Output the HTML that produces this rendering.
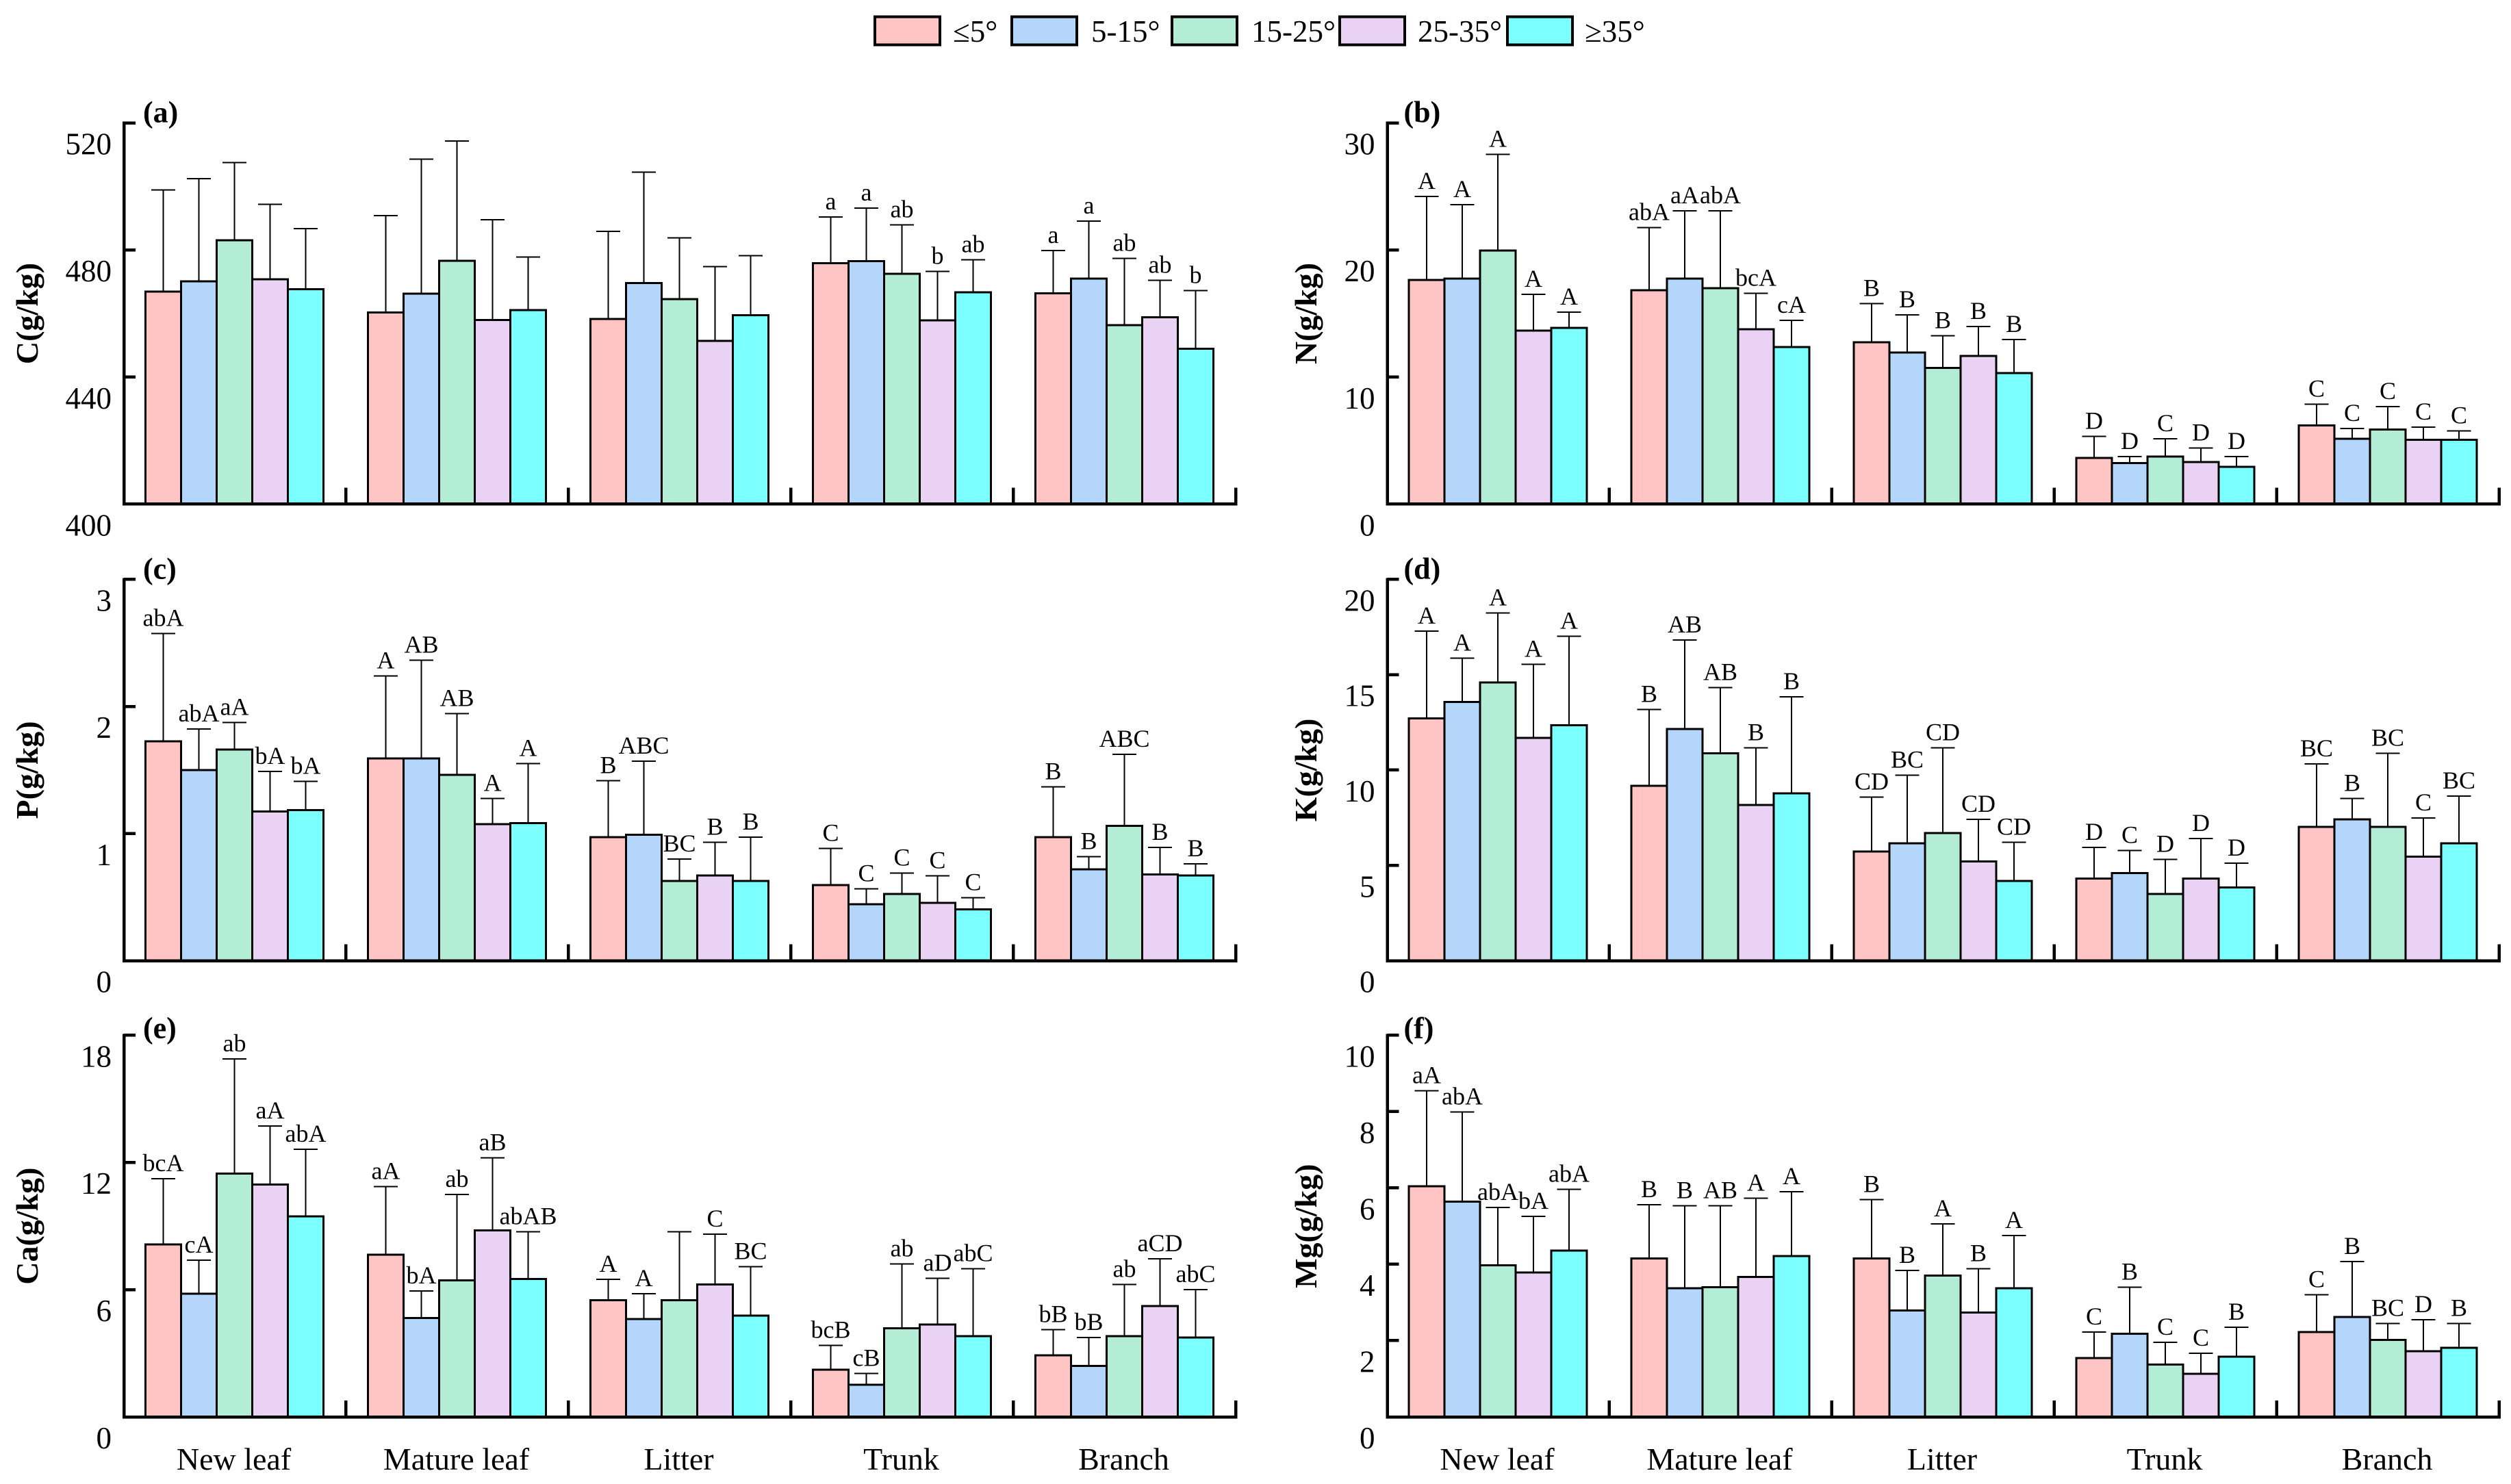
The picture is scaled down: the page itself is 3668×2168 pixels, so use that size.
<!DOCTYPE html>
<html lang="en">
<head>
<meta charset="utf-8">
<title>Leaf and wood nutrient concentrations by slope class</title>
<style>
html,body{margin:0;padding:0;background:#fff;}
svg{display:block;}
text{font-family:"Liberation Serif","DejaVu Serif",serif;fill:#000;}
</style>
</head>
<body>
<svg id="chart" xmlns="http://www.w3.org/2000/svg" width="3668" height="2168" viewBox="0 0 3668 2168"></svg>
<script>
const categories = ['New leaf', 'Mature leaf', 'Litter', 'Trunk', 'Branch'];
const seriesNames = ['≤5°', '5-15°', '15-25°', '25-35°', '≥35°'];
const seriesColors = ['#FFC4C4', '#B4D6FB', '#B3EDD6', '#EAD2F5', '#7BFFFF'];

const aTicks = [400, 440, 480, 520];
const aValues = [
  [466.9, 470.1, 483.1, 470.8, 467.7],
  [460.3, 466.3, 476.6, 457.9, 461.1],
  [458.3, 469.6, 464.5, 451.4, 459.5],
  [475.8, 476.5, 472.5, 457.8, 466.7],
  [466.4, 471.0, 456.3, 458.8, 448.9]
];
const aUpper = [
  [498.9, 502.5, 507.5, 494.4, 486.7],
  [490.8, 508.6, 514.3, 489.5, 477.8],
  [485.9, 504.5, 483.8, 474.8, 478.2],
  [490.4, 493.2, 487.9, 473.3, 476.9],
  [479.8, 489.1, 477.4, 470.5, 467.2]
];
const aLetters = [
  ['', '', '', '', ''],
  ['', '', '', '', ''],
  ['', '', '', '', ''],
  ['a', 'a', 'ab', 'b', 'ab'],
  ['a', 'a', 'ab', 'ab', 'b']
];

const bTicks = [0, 10, 20, 30];
const bValues = [
  [17.64, 17.74, 19.95, 13.65, 13.87],
  [16.83, 17.74, 17.0, 13.77, 12.36],
  [12.74, 11.92, 10.72, 11.66, 10.31],
  [3.63, 3.22, 3.73, 3.32, 2.93],
  [6.18, 5.14, 5.87, 5.05, 5.05]
];
const bUpper = [
  [24.2, 23.58, 27.52, 16.51, 15.1],
  [21.75, 23.08, 23.08, 16.59, 14.45],
  [15.79, 14.88, 13.25, 13.97, 12.96],
  [5.34, 3.73, 5.14, 4.42, 3.73],
  [7.86, 5.96, 7.67, 6.06, 5.75]
];
const bLetters = [
  ['A', 'A', 'A', 'A', 'A'],
  ['abA', 'aA', 'abA', 'bcA', 'cA'],
  ['B', 'B', 'B', 'B', 'B'],
  ['D', 'D', 'C', 'D', 'D'],
  ['C', 'C', 'C', 'C', 'C']
];

const cTicks = [0, 1, 2, 3];
const cValues = [
  [1.725, 1.501, 1.662, 1.174, 1.186],
  [1.59, 1.59, 1.462, 1.074, 1.083],
  [0.971, 0.99, 0.628, 0.67, 0.628],
  [0.595, 0.444, 0.525, 0.455, 0.404],
  [0.971, 0.719, 1.062, 0.679, 0.67]
];
const cUpper = [
  [2.573, 1.823, 1.875, 1.49, 1.41],
  [2.239, 2.363, 1.945, 1.277, 1.55],
  [1.417, 1.571, 0.801, 0.932, 0.971],
  [0.883, 0.567, 0.689, 0.668, 0.497],
  [1.368, 0.82, 1.623, 0.892, 0.761]
];
const cLetters = [
  ['abA', 'abA', 'aA', 'bA', 'bA'],
  ['A', 'AB', 'AB', 'A', 'A'],
  ['B', 'ABC', 'BC', 'B', 'B'],
  ['C', 'C', 'C', 'C', 'C'],
  ['B', 'B', 'ABC', 'B', 'B']
];

const dTicks = [0, 5, 10, 15, 20];
const dValues = [
  [12.7, 13.57, 14.6, 11.69, 12.34],
  [9.18, 12.16, 10.88, 8.17, 8.78],
  [5.73, 6.15, 6.69, 5.2, 4.19],
  [4.31, 4.59, 3.5, 4.31, 3.84],
  [7.02, 7.42, 7.02, 5.46, 6.15]
];
const dUpper = [
  [17.29, 15.86, 18.24, 15.55, 17.01],
  [13.17, 16.82, 14.32, 11.16, 13.84],
  [8.58, 9.73, 11.16, 7.42, 6.21],
  [5.95, 5.79, 5.32, 6.41, 5.12],
  [10.33, 8.51, 10.88, 7.49, 8.64]
];
const dLetters = [
  ['A', 'A', 'A', 'A', 'A'],
  ['B', 'AB', 'AB', 'B', 'B'],
  ['CD', 'BC', 'CD', 'CD', 'CD'],
  ['D', 'C', 'D', 'D', 'D'],
  ['BC', 'B', 'BC', 'C', 'BC']
];

const eTicks = [0, 6, 12, 18];
const eValues = [
  [8.13, 5.81, 11.48, 10.95, 9.46],
  [7.65, 4.67, 6.44, 8.79, 6.5],
  [5.51, 4.61, 5.51, 6.25, 4.77],
  [2.23, 1.51, 4.18, 4.36, 3.81],
  [2.9, 2.41, 3.81, 5.23, 3.75]
];
const eUpper = [
  [11.23, 7.39, 16.88, 13.71, 12.62],
  [10.86, 5.94, 10.49, 12.21, 8.73],
  [6.49, 5.81, 8.73, 8.62, 7.08],
  [3.38, 2.05, 7.21, 6.53, 6.98],
  [4.11, 3.75, 6.25, 7.46, 6.0]
];
const eLetters = [
  ['bcA', 'cA', 'ab', 'aA', 'abA'],
  ['aA', 'bA', 'ab', 'aB', 'abAB'],
  ['A', 'A', '', 'C', 'BC'],
  ['bcB', 'cB', 'ab', 'aD', 'abC'],
  ['bB', 'bB', 'ab', 'aCD', 'abC']
];

const fTicks = [0, 2, 4, 6, 8, 10];
const fValues = [
  [6.04, 5.64, 3.97, 3.78, 4.36],
  [4.15, 3.37, 3.4, 3.67, 4.21],
  [4.15, 2.79, 3.7, 2.73, 3.37],
  [1.54, 2.18, 1.37, 1.13, 1.58],
  [2.22, 2.62, 2.02, 1.72, 1.81]
];
const fUpper = [
  [8.54, 7.99, 5.49, 5.25, 5.96],
  [5.56, 5.53, 5.53, 5.73, 5.9],
  [5.69, 3.84, 5.06, 3.88, 4.75],
  [2.22, 3.4, 1.95, 1.67, 2.35],
  [3.2, 4.07, 2.45, 2.55, 2.45]
];
const fLetters = [
  ['aA', 'abA', 'abA', 'bA', 'abA'],
  ['B', 'B', 'AB', 'A', 'A'],
  ['B', 'B', 'A', 'B', 'A'],
  ['C', 'B', 'C', 'C', 'B'],
  ['C', 'B', 'BC', 'D', 'B']
];

const NS = 'http://www.w3.org/2000/svg';
const svg = document.getElementById('chart');

function make(parent, tag, attrs, content) {
  const node = document.createElementNS(NS, tag);
  for (const k in attrs) node.setAttribute(k, attrs[k]);
  if (content !== undefined) node.textContent = content;
  parent.appendChild(node);
  return node;
}

function drawLegend() {
  const boxLefts = [1276, 1476, 1710, 1955, 2200];
  const textLefts = [1392, 1594, 1828, 2071, 2315];
  const g = make(svg, 'g', {});
  
  
  seriesNames.forEach((name, i) => {
    const box = make(g, 'rect', {x: boxLefts[i] + 2, y: 24.5, width: 95, height: 41, fill: seriesColors[i], stroke: '#000', 'stroke-width': 4, 'shape-rendering': 'crispEdges'});
    
    
    const label = make(g, 'text', {x: textLefts[i], y: 61, 'font-size': 45}, name);
    
    
  });
}

function drawPanel(p) {
  const x0 = p.left ? 181 : 2026.5;
  const step = 325;
  const barW = 52;
  const domainMin = p.ticks[0];
  const domainMax = p.ticks[p.ticks.length - 1];
  const yScale = v => p.base - (v - domainMin) / (domainMax - domainMin) * (p.base - p.top);
  const groupLeft = i => x0 + 31.5 + i * step;

  const g = make(svg, 'g', {});
  
  

  const title = make(g, 'text', {x: x0 + (p.left ? 28 : 24), y: p.top + p.titleDy, 'font-size': 44, 'font-weight': 'bold'}, `(${p.id})`);
  
  

  const yTitleX = p.left ? 55 : 1923;
  const yTitleY = (p.top + p.base) / 2;
  const yTitle = make(g, 'text', {x: yTitleX, y: yTitleY, 'font-size': 46, 'font-weight': 'bold', 'text-anchor': 'middle', transform: `rotate(-90 ${yTitleX} ${yTitleY})`}, p.yTitle);
  
  

  p.values.forEach((groupVals, gi) => {
    groupVals.forEach((val, si) => {
      const left = groupLeft(gi) + si * barW;
      const cx = left + barW / 2;
      const yVal = yScale(val);
      const yUp = yScale(p.upper[gi][si]);

      const err = make(g, 'line', {x1: cx, x2: cx, y1: yVal, y2: yUp, stroke: '#000', 'stroke-width': 2, 'shape-rendering': 'crispEdges'});
      
      

      const cap = make(g, 'line', {x1: cx - 17.5, x2: cx + 17.5, y1: yUp, y2: yUp, stroke: '#000', 'stroke-width': 2, 'shape-rendering': 'crispEdges'});
      
      

      const bar = make(g, 'rect', {x: left, y: yVal, width: barW, height: p.base - yVal, fill: seriesColors[si], stroke: '#000', 'stroke-width': 3, 'shape-rendering': 'crispEdges'});
      
      

      const letter = p.letters[gi][si];
      if (letter) {
        const mark = make(g, 'text', {x: cx, y: yUp - 11, 'font-size': 36, 'text-anchor': 'middle'}, letter);
        
        
      }
    });
  });

  const yAxis = make(g, 'line', {x1: x0, x2: x0, y1: p.top - 2, y2: p.base + 2, stroke: '#000', 'stroke-width': 4.5, 'shape-rendering': 'crispEdges'});
  
  

  const xAxis = make(g, 'line', {x1: x0 - 2, x2: x0 + 5 * step + 1.5, y1: p.base, y2: p.base, stroke: '#000', 'stroke-width': 4.5, 'shape-rendering': 'crispEdges'});
  
  

  p.ticks.forEach((t, i) => {
    const ty = yScale(t);
    if (i > 0) {
      const tick = make(g, 'line', {x1: x0, x2: x0 + 17, y1: ty, y2: ty, stroke: '#000', 'stroke-width': 4.5, 'shape-rendering': 'crispEdges'});
      
      
    }
    const lab = make(g, 'text', {x: x0 - 18, y: ty + 46, 'font-size': 45, 'text-anchor': 'end'}, String(t));
    
    
  });

  categories.forEach((cat, i) => {
    const tx = x0 + (i + 1) * step - 1;
    const tick = make(g, 'line', {x1: tx, x2: tx, y1: p.base, y2: p.base - 24, stroke: '#000', 'stroke-width': 4.5, 'shape-rendering': 'crispEdges'});
    
    
    if (p.showCategories) {
      const lab = make(g, 'text', {x: groupLeft(i) + 129, y: p.base + 77, 'font-size': 46, 'text-anchor': 'middle'}, cat);
      
      
    }
  });
}

drawLegend();
drawPanel({id: 'a', left: true, top: 179.6, base: 736.4, titleDy: -1, yTitle: 'C(g/kg)', ticks: aTicks, values: aValues, upper: aUpper, letters: aLetters, showCategories: false});
drawPanel({id: 'b', left: false, top: 179.6, base: 736.4, titleDy: -1, yTitle: 'N(g/kg)', ticks: bTicks, values: bValues, upper: bUpper, letters: bLetters, showCategories: false});
drawPanel({id: 'c', left: true, top: 846.3, base: 1403.6, titleDy: -1, yTitle: 'P(g/kg)', ticks: cTicks, values: cValues, upper: cUpper, letters: cLetters, showCategories: false});
drawPanel({id: 'd', left: false, top: 846.3, base: 1403.6, titleDy: -1, yTitle: 'K(g/kg)', ticks: dTicks, values: dValues, upper: dUpper, letters: dLetters, showCategories: false});
drawPanel({id: 'e', left: true, top: 1512.3, base: 2070, titleDy: 4, yTitle: 'Ca(g/kg)', ticks: eTicks, values: eValues, upper: eUpper, letters: eLetters, showCategories: true});
drawPanel({id: 'f', left: false, top: 1512.3, base: 2070, titleDy: 4, yTitle: 'Mg(g/kg)', ticks: fTicks, values: fValues, upper: fUpper, letters: fLetters, showCategories: true});
</script>
</body>
</html>
